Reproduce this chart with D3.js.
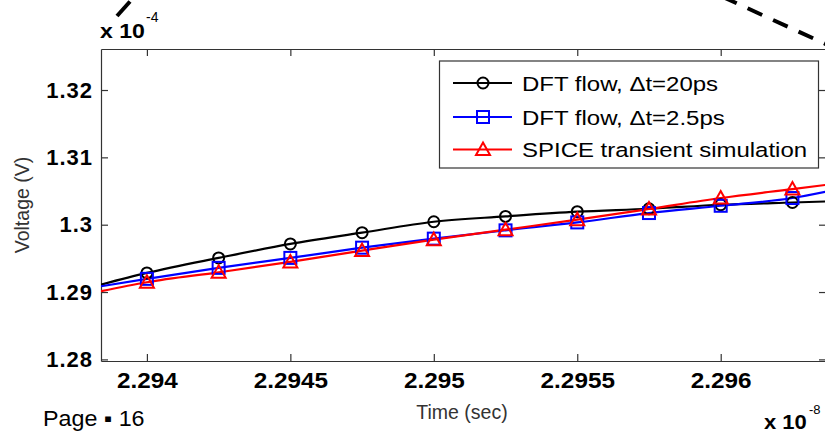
<!DOCTYPE html>
<html>
<head>
<meta charset="utf-8">
<script src="https://cdn.jsdelivr.net/npm/d3@7"></script>
<style>
  html, body { margin: 0; padding: 0; background: #fff; }
  svg { display: block; }
  text { font-family: "Liberation Sans", Arial, Helvetica, sans-serif; }
</style>
</head>
<body>
<svg id="chart" width="825" height="435"></svg>
<script>
// ---------------- data ----------------
const times = [2.29384, 2.294, 2.29425, 2.2945, 2.29475, 2.295, 2.29525, 2.2955, 2.29575, 2.296, 2.29625, 2.29637];
const dft20 = [1.29111, 1.29284, 1.29507, 1.29714, 1.29881, 1.30044, 1.30123, 1.30193, 1.30237, 1.30296, 1.30330, 1.30345];
const dft25 = [1.29086, 1.29196, 1.29359, 1.29507, 1.29659, 1.29793, 1.29916, 1.30034, 1.30173, 1.30281, 1.30396, 1.30493];
const spice = [1.29012, 1.29145, 1.29293, 1.29447, 1.29615, 1.29778, 1.29926, 1.30074, 1.30233, 1.30396, 1.30529, 1.30593];
const seriesNames = ["DFT flow, \u0394t=20ps", "DFT flow, \u0394t=2.5ps", "SPICE transient simulation"];
const xTicks = [2.294, 2.2945, 2.295, 2.2955, 2.296];
const xTickLabels = ["2.294", "2.2945", "2.295", "2.2955", "2.296"];
const yTicks = [1.28, 1.29, 1.30, 1.31, 1.32];
const yTickLabels = ["1.28", "1.29", "1.3", "1.31", "1.32"];
const xDomain = [2.29384, 2.296367];
const yDomain = [1.27976, 1.32609];

// ---------------- layout ----------------
const svg = d3.select("#chart");
const L = 101, R = 826, T = 49, B = 361;
const axisColor = "#333";

const x = d3.scaleLinear().domain(xDomain).range([L, R]);
const y = d3.scaleLinear().domain(yDomain).range([B, T]);

svg.append("clipPath").attr("id", "plotclip")
  .append("rect").attr("x", L).attr("y", T).attr("width", R - L).attr("height", B - T);

// ---------------- axes ----------------
const xLab = d3.scaleOrdinal().domain(xTicks).range(xTickLabels);
const yLab = d3.scaleOrdinal().domain(yTicks).range(yTickLabels);

function styleAxis(g) {
  g.selectAll("path.domain").attr("stroke", axisColor).attr("stroke-width", 1.2);
  g.selectAll(".tick line").attr("stroke", axisColor).attr("stroke-width", 1.2);
}

const gx = svg.append("g").attr("transform", `translate(0,${B})`)
  .call(d3.axisBottom(x).tickValues(xTicks).tickSizeInner(-7).tickSizeOuter(0).tickPadding(12)
        .tickFormat(d => xLab(d)));
styleAxis(gx);
gx.selectAll(".tick text")
  .attr("font-size", 21.5).attr("font-weight", "bold").attr("fill", "#000")
  .attr("font-family", "Liberation Sans, Arial, sans-serif")
  .attr("transform", "scale(1.13,1)");

const gy = svg.append("g").attr("transform", `translate(${L},0)`)
  .call(d3.axisLeft(y).tickValues(yTicks).tickSizeInner(-7).tickSizeOuter(0).tickPadding(8)
        .tickFormat(d => yLab(d)));
styleAxis(gy);
gy.selectAll(".tick text")
  .attr("font-size", 22).attr("font-weight", "bold").attr("fill", "#000")
  .attr("font-family", "Liberation Sans, Arial, sans-serif")
  .attr("letter-spacing", 1);

const gt = svg.append("g").attr("transform", `translate(0,${T})`)
  .call(d3.axisTop(x).tickValues(xTicks).tickSizeInner(-7).tickSizeOuter(0).tickFormat(""));
styleAxis(gt);

const gr = svg.append("g").attr("transform", `translate(${R},0)`)
  .call(d3.axisRight(y).tickValues(yTicks).tickSizeInner(-7).tickSizeOuter(0).tickFormat(""));
styleAxis(gr);

// ---------------- series ----------------
const series = [
  { name: seriesNames[0], values: dft20, color: "#000000", marker: "circle" },
  { name: seriesNames[1], values: dft25, color: "#0000ff", marker: "square" },
  { name: seriesNames[2], values: spice, color: "#ff0000", marker: "triangle" }
];

function drawMarker(g, type, cx, cy, color) {
  if (type === "circle") {
    g.append("circle").attr("cx", cx).attr("cy", cy).attr("r", 5.5)
      .attr("fill", "none").attr("stroke", color).attr("stroke-width", 2);
  } else if (type === "square") {
    g.append("rect").attr("x", cx - 6).attr("y", cy - 6).attr("width", 12).attr("height", 12)
      .attr("fill", "none").attr("stroke", color).attr("stroke-width", 2);
  } else {
    g.append("path")
      .attr("d", `M${cx},${cy - 7} L${cx + 7},${cy + 5.5} L${cx - 7},${cy + 5.5} Z`)
      .attr("fill", "none").attr("stroke", color).attr("stroke-width", 2);
  }
}

const plot = svg.append("g").attr("clip-path", "url(#plotclip)");
const line = d3.line().x(d => x(d[0])).y(d => y(d[1])).curve(d3.curveMonotoneX);

series.forEach(s => {
  const pts = times.map((t, i) => [t, s.values[i]]);
  plot.append("path").datum(pts).attr("d", line)
    .attr("fill", "none").attr("stroke", s.color).attr("stroke-width", 2.2);
});
series.forEach(s => {
  const mg = plot.append("g");
  times.forEach((t, i) => {
    if (i === 0 || i === times.length - 1) return;
    drawMarker(mg, s.marker, x(t), y(s.values[i]), s.color);
  });
});

// ---------------- legend ----------------
const lg = svg.append("g");
lg.append("rect").attr("x", 439.5).attr("y", 61).attr("width", 379).attr("height", 107)
  .attr("fill", "#fff").attr("stroke", axisColor).attr("stroke-width", 1.2);
const rowY = [83, 117, 149.5];
series.forEach((s, i) => {
  const yy = rowY[i];
  lg.append("line").attr("x1", 453).attr("x2", 512).attr("y1", yy).attr("y2", yy)
    .attr("stroke", s.color).attr("stroke-width", 2.2);
  drawMarker(lg, s.marker, 483, yy, s.color);
  lg.append("g").attr("transform", `translate(522,${yy + 7.5})`)
    .append("text").attr("transform", "scale(1.17,1)")
    .attr("font-size", 20.5).attr("fill", "#000").text(s.name);
});

// ---------------- labels ----------------
svg.append("text").attr("transform", "translate(29,205) rotate(-90)")
  .attr("text-anchor", "middle").attr("font-size", 19.5).attr("fill", "#333").text("Voltage (V)");
svg.append("text").attr("x", 462).attr("y", 419)
  .attr("text-anchor", "middle").attr("font-size", 19.5).attr("fill", "#333").text("Time (sec)");

// exponent labels
const e1 = svg.append("g").attr("transform", "translate(100,38)");
e1.append("text").attr("transform", "scale(1.1,1)").attr("font-size", 21).attr("font-weight", "bold")
  .attr("fill", "#000").text("x 10");
svg.append("text").attr("x", 146).attr("y", 22).attr("font-size", 14).attr("fill", "#000").text("-4");

const e2 = svg.append("g").attr("transform", "translate(764,429)");
e2.append("text").attr("transform", "scale(1.1,1)").attr("font-size", 20).attr("font-weight", "bold")
  .attr("fill", "#000").text("x 10");
svg.append("text").attr("x", 809).attr("y", 414).attr("font-size", 13).attr("fill", "#000").text("-8");

// page label
const pg = svg.append("g").attr("transform", "translate(43,426)");
pg.append("text").attr("transform", "scale(1.06,1)").attr("font-size", 22).attr("fill", "#000")
  .text("Page \u25AA 16");

// dashed callout lines
svg.append("line").attr("x1", 117).attr("y1", 16).attr("x2", 130).attr("y2", 1.5)
  .attr("stroke", "#000").attr("stroke-width", 4);
svg.append("line").attr("x1", 830).attr("y1", 46).attr("x2", 712).attr("y2", -8)
  .attr("stroke", "#000").attr("stroke-width", 4)
  .attr("stroke-dasharray", "16 12").attr("stroke-dashoffset", 9.4);
</script>
</body>
</html>
